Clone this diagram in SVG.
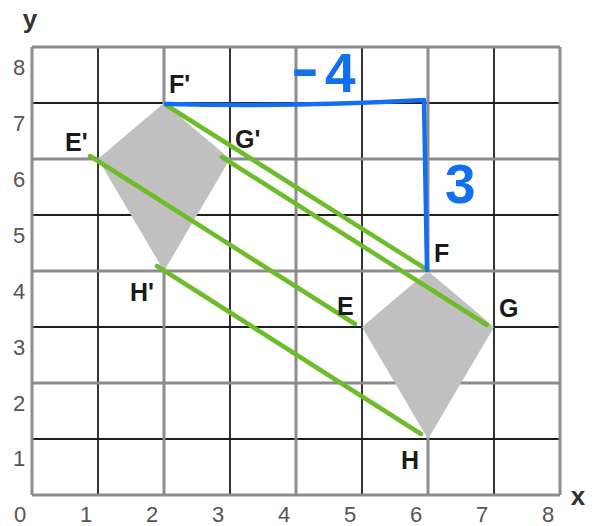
<svg xmlns="http://www.w3.org/2000/svg" width="593" height="526" viewBox="0 0 593 526">
<style>
.gl{stroke:#8c8c8c;stroke-width:3;fill:none}
.dl{stroke:#1e1e1e;stroke-width:1.8;fill:none}
.kite{fill:#c0c0c0;stroke:none}
.gr{stroke:#6dbd2a;stroke-width:4.5;stroke-linecap:round;fill:none}
.bl{stroke:#1270f0;stroke-width:4.5;stroke-linecap:round;stroke-linejoin:round;fill:none}
.num{font-family:"Liberation Sans",Arial,sans-serif;font-size:22px;fill:#555;text-anchor:middle}
.ax{font-family:"Liberation Sans",Arial,sans-serif;font-size:26px;font-weight:bold;fill:#333;text-anchor:middle}
.lab{font-family:"Liberation Sans",Arial,sans-serif;font-size:25px;font-weight:bold;fill:#1a1a1a}
.hand{font-family:"Liberation Sans",Arial,sans-serif;font-weight:bold;font-size:55px;fill:#1270f0}
</style>
<rect width="593" height="526" fill="#ffffff"/>
<g id="grid">
<path class="dl" d="M98,47V495M230,47V495M362,47V495M494,47V495M32,103H560M32,215H560M32,327H560M32,439H560"/>
<path class="gl" d="M32,47V495M164,47V495M296,47V495M428,47V495M560,47V495M32,47H560M32,159H560M32,271H560M32,383H560M32,495H560"/>
</g>
<g id="axis-labels">
<text class="num" x="19" y="75">8</text>
<text class="num" x="19" y="131">7</text>
<text class="num" x="19" y="187">6</text>
<text class="num" x="19" y="243">5</text>
<text class="num" x="19" y="299">4</text>
<text class="num" x="19" y="355">3</text>
<text class="num" x="19" y="411">2</text>
<text class="num" x="19" y="466">1</text>
<text class="num" x="20" y="522">0</text>
<text class="num" x="86" y="522">1</text>
<text class="num" x="152" y="522">2</text>
<text class="num" x="218" y="522">3</text>
<text class="num" x="284" y="522">4</text>
<text class="num" x="350" y="522">5</text>
<text class="num" x="416" y="522">6</text>
<text class="num" x="482" y="522">7</text>
<text class="num" x="548" y="522">8</text>
<text class="ax" x="30" y="28">y</text>
<text class="ax" x="578" y="505">x</text>
</g>
<g id="kite-image">
<polygon class="kite" points="164,103 230,159 164,271 98,159"/>
</g>
<g id="kite-original">
<polygon class="kite" points="428,271 494,327 428,439 362,327"/>
</g>
<g id="connectors">
<line class="gr" x1="166" y1="105" x2="426" y2="269"/>
<line class="gr" x1="222" y1="157" x2="487" y2="325"/>
<line class="gr" x1="90" y1="156" x2="355" y2="324"/>
<line class="gr" x1="157" y1="266" x2="421" y2="434"/>
<path class="bl" d="M166,104 Q300,107 424,100 L427,270"/>
</g>
<g id="labels">
<text class="lab" x="169" y="93">F'</text>
<text class="lab" x="65" y="151">E'</text>
<text class="lab" x="235" y="148">G'</text>
<text class="lab" x="130" y="301">H'</text>
<text class="lab" x="434" y="262">F</text>
<text class="lab" x="337" y="315">E</text>
<text class="lab" x="499" y="317">G</text>
<text class="lab" x="401" y="469">H</text>
</g>
<g id="changes">
<text class="hand" y="92"><tspan x="291" dy="-5" textLength="28" lengthAdjust="spacingAndGlyphs">-</tspan><tspan x="325" dy="5">4</tspan></text>
<text class="hand" x="445" y="203">3</text>
</g>
</svg>
